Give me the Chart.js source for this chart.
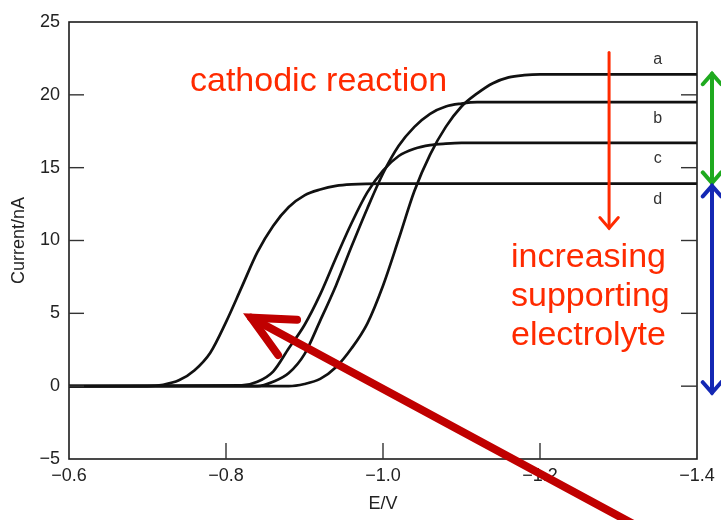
<!DOCTYPE html>
<html>
<head>
<meta charset="utf-8">
<script src="https://cdn.jsdelivr.net/npm/chart.js@4.4.1/dist/chart.umd.min.js"></script>
<style>
  html, body { margin: 0; padding: 0; background: #ffffff; }
  #wrap { width: 721px; height: 520px; }
</style>
</head>
<body>
<div id="wrap"><canvas id="c" width="721" height="520"></canvas></div>
<script>
// ---- data (E in V, current in nA) ----
const E_a = [-0.60, -0.88, -0.90, -0.92, -0.94, -0.96, -0.98, -1.00, -1.02, -1.04, -1.06, -1.08, -1.10, -1.12, -1.14, -1.16, -1.18, -1.20, -1.40];
const I_a = [0, 0, 0.15, 0.5, 1.3, 2.6, 4.3, 6.9, 10.1, 13.4, 15.9, 17.8, 19.2, 20.1, 20.8, 21.2, 21.35, 21.4, 21.4];

const E_b = [-0.60, -0.84, -0.86, -0.88, -0.90, -0.92, -0.94, -0.96, -0.98, -1.00, -1.02, -1.04, -1.06, -1.08, -1.10, -1.12, -1.40];
const I_b = [0, 0, 0.3, 0.9, 2.2, 4.5, 6.9, 9.6, 12.2, 14.6, 16.5, 17.8, 18.7, 19.2, 19.4, 19.5, 19.5];

const E_c = [-0.60, -0.82, -0.84, -0.86, -0.88, -0.90, -0.92, -0.94, -0.96, -0.98, -1.00, -1.02, -1.04, -1.06, -1.08, -1.10, -1.40];
const I_c = [0, 0.05, 0.3, 1.0, 2.6, 4.2, 6.3, 8.8, 11.2, 13.3, 14.8, 15.8, 16.3, 16.55, 16.65, 16.7, 16.7];

const E_d = [-0.60, -0.70, -0.72, -0.74, -0.76, -0.78, -0.80, -0.82, -0.84, -0.86, -0.88, -0.90, -0.92, -0.94, -0.96, -1.00, -1.40];
const I_d = [0, 0, 0.1, 0.4, 1.1, 2.3, 4.4, 6.8, 9.2, 11.0, 12.3, 13.1, 13.5, 13.75, 13.85, 13.9, 13.9];

const curveNames = ['a', 'b', 'c', 'd'];
const limitingCurrents = [21.4, 19.5, 16.7, 13.9];

const xTicks = [-0.6, -0.8, -1.0, -1.2, -1.4];
const yTicks = [-5, 0, 5, 10, 15, 20, 25];

const xTitle = 'E/V';
const yTitle = 'Current/nA';
const noteTop = 'cathodic reaction';
const noteSide = ['increasing', 'supporting', 'electrolyte'];

// ---- build datasets ----
function pts(E, I) { return E.map((e, i) => ({ x: e, y: I[i] })); }
const series = [pts(E_a, I_a), pts(E_b, I_b), pts(E_c, I_c), pts(E_d, I_d)];

const FONT = '"Liberation Sans", Arial, Helvetica, sans-serif';
const fmt = v => (v < 0 ? '\u2212' : '') + Math.abs(v).toFixed(1);

function arrowHead(ctx, tx, ty, dx, dy, len, ang) {
  const a = Math.atan2(dy, dx);
  ctx.beginPath();
  ctx.moveTo(tx - len * Math.cos(a - ang), ty - len * Math.sin(a - ang));
  ctx.lineTo(tx, ty);
  ctx.lineTo(tx - len * Math.cos(a + ang), ty - len * Math.sin(a + ang));
  ctx.stroke();
}
function arrow(ctx, x1, y1, x2, y2, color, w, len, ang, both) {
  ctx.save();
  ctx.strokeStyle = color; ctx.lineWidth = w; ctx.lineCap = 'round'; ctx.lineJoin = 'miter';
  ctx.beginPath(); ctx.moveTo(x1, y1); ctx.lineTo(x2, y2); ctx.stroke();
  arrowHead(ctx, x2, y2, x2 - x1, y2 - y1, len, ang);
  if (both) arrowHead(ctx, x1, y1, x1 - x2, y1 - y2, len, ang);
  ctx.restore();
}

const decor = {
  id: 'decor',
  afterDatasetsDraw(chart) {
    const { ctx, chartArea: ca, scales: { x, y } } = chart;
    ctx.save();
    // frame
    ctx.strokeStyle = '#1c1c1c'; ctx.lineWidth = 1.6;
    ctx.strokeRect(ca.left, ca.top, ca.right - ca.left, ca.bottom - ca.top);
    // inward ticks
    ctx.lineWidth = 1.4; ctx.strokeStyle = '#333';
    x.ticks.forEach(t => {
      if (t.value <= -1.39 || t.value >= -0.61) return;
      const px = x.getPixelForValue(t.value);
      ctx.beginPath(); ctx.moveTo(px, ca.bottom); ctx.lineTo(px, ca.bottom - 16); ctx.stroke();
    });
    y.ticks.forEach(t => {
      if (t.value <= -5 || t.value >= 25) return;
      const py = y.getPixelForValue(t.value);
      ctx.beginPath(); ctx.moveTo(ca.left, py); ctx.lineTo(ca.left + 15, py); ctx.stroke();
      ctx.beginPath(); ctx.moveTo(ca.right, py); ctx.lineTo(ca.right - 16, py); ctx.stroke();
    });
    // curve labels
    ctx.fillStyle = '#333'; ctx.font = '16px ' + FONT; ctx.textAlign = 'center'; ctx.textBaseline = 'middle';
    const lx = x.getPixelForValue(-1.35);
    curveNames.forEach((n, i) => {
      const off = i === 0 ? 1.0 : -1.1;
      ctx.fillText(n, lx, y.getPixelForValue(limitingCurrents[i] + off));
    });
    ctx.restore();

    // annotations
    const red = '#ff2a00';
    ctx.save();
    ctx.fillStyle = red; ctx.font = '34px ' + FONT; ctx.textAlign = 'left'; ctx.textBaseline = 'alphabetic';
    ctx.fillText(noteTop, 190, 91);
    noteSide.forEach((s, i) => ctx.fillText(s, 511, 267 + i * 39));
    ctx.restore();

    const ax = x.getPixelForValue(-1.288);
    arrow(ctx, ax, y.getPixelForValue(22.9), ax, y.getPixelForValue(10.85), red, 3, 14, 0.72, false);

    const gx = ca.right + 15;
    arrow(ctx, gx, y.getPixelForValue(13.95), gx, y.getPixelForValue(21.45), '#1faa1f', 4, 14, 0.72, true);
    arrow(ctx, gx, y.getPixelForValue(-0.45), gx, y.getPixelForValue(13.75), '#1428b4', 4, 14, 0.72, true);

    // big arrow pointing at curve d
    const tx = x.getPixelForValue(-0.832), ty = y.getPixelForValue(4.7);
    arrow(ctx, tx + 0.88 * 440, ty + 0.475 * 440, tx, ty, '#c00000', 8, 46, 0.45, false);
  }
};

new Chart(document.getElementById('c'), {
  type: 'line',
  data: {
    datasets: series.map((d, i) => ({
      label: curveNames[i],
      data: d,
      borderColor: '#111',
      borderWidth: 2.7,
      pointRadius: 0,
      fill: false,
      cubicInterpolationMode: 'monotone'
    }))
  },
  options: {
    responsive: false,
    animation: false,
    layout: { padding: { left: 0, right: 24, top: 22, bottom: 0 } },
    plugins: { legend: { display: false }, tooltip: { enabled: false } },
    scales: {
      x: {
        type: 'linear', reverse: true, min: -1.4, max: -0.6,
        afterBuildTicks: s => { s.ticks = xTicks.map(v => ({ value: v })); },
        afterFit: s => { s.height = 61; },
        grid: { display: false, drawTicks: false },
        border: { display: false },
        ticks: { color: '#222', font: { family: FONT, size: 18 }, padding: 6, maxRotation: 0, autoSkip: false, callback: v => fmt(v) },
        title: { display: true, text: xTitle, color: '#222', font: { family: FONT, size: 18 }, padding: { top: 0, bottom: 5 } }
      },
      y: {
        min: -5, max: 25,
        afterBuildTicks: s => { s.ticks = yTicks.map(v => ({ value: v })); },
        afterFit: s => { s.width = 69; },
        grid: { display: false, drawTicks: false },
        border: { display: false },
        ticks: { color: '#222', font: { family: FONT, size: 18 }, padding: 9, autoSkip: false, callback: v => (v < 0 ? '\u2212' : '') + Math.abs(v) },
        title: { display: true, text: yTitle, color: '#222', font: { family: FONT, size: 18 }, padding: { top: 8, bottom: 0 } }
      }
    }
  },
  plugins: [decor]
});
</script>
</body>
</html>
